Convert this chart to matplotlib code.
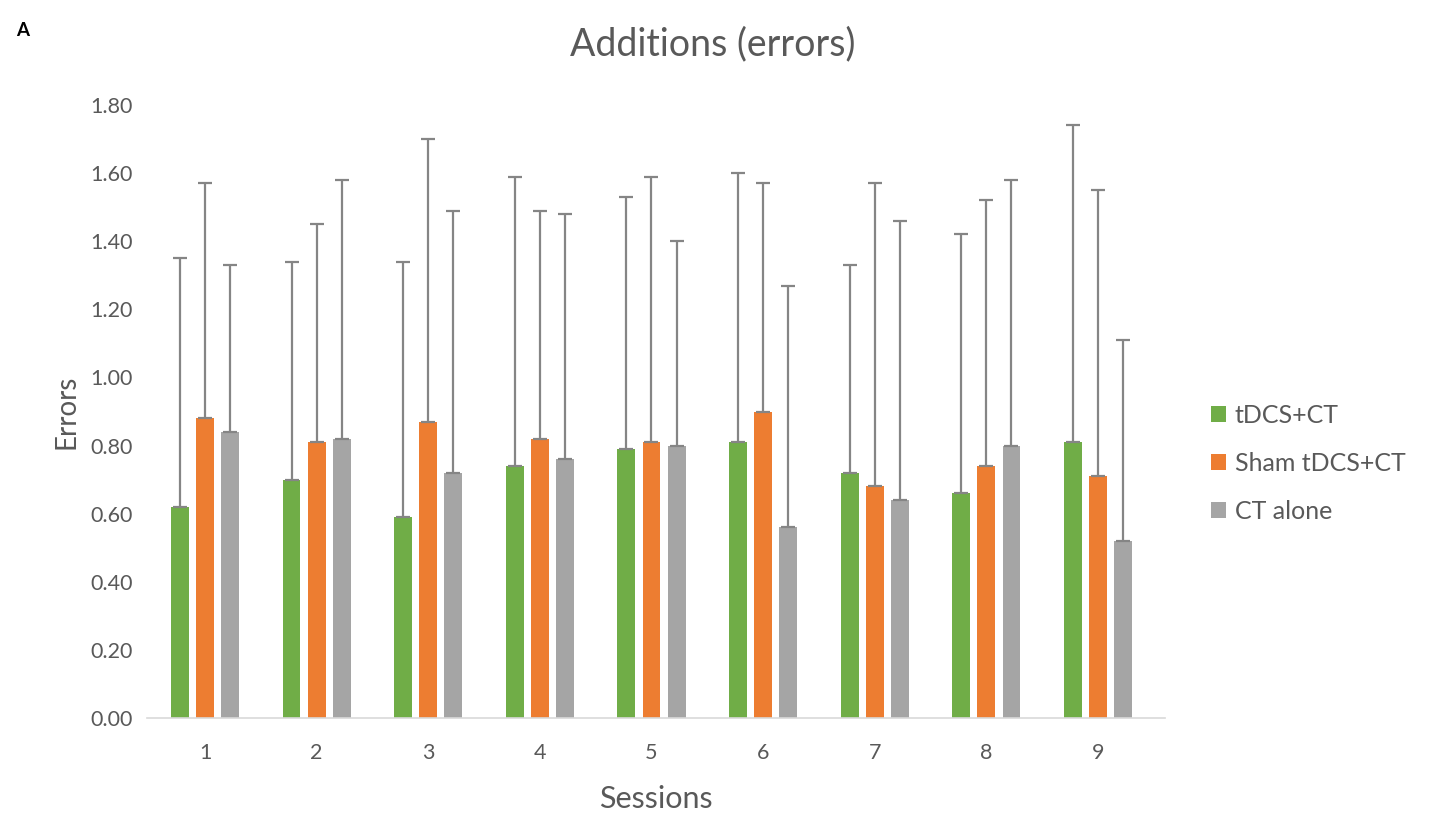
import numpy as np
import matplotlib
matplotlib.use('Agg')
from matplotlib import pyplot as plt


sessions = ['1', '2', '3', '4', '5', '6', '7', '8', '9']
groups = ['tDCS+CT', 'Sham tDCS+CT', 'CT alone']

means_tdcs = [0.62, 0.70, 0.59, 0.74, 0.79, 0.81, 0.72, 0.66, 0.81]
means_sham = [0.88, 0.81, 0.87, 0.82, 0.81, 0.90, 0.68, 0.74, 0.71]
means_ct = [0.84, 0.82, 0.72, 0.76, 0.80, 0.56, 0.64, 0.80, 0.52]

tops_tdcs = [1.35, 1.34, 1.34, 1.59, 1.53, 1.60, 1.33, 1.42, 1.74]
tops_sham = [1.57, 1.45, 1.70, 1.49, 1.59, 1.57, 1.57, 1.52, 1.55]
tops_ct = [1.33, 1.58, 1.49, 1.48, 1.40, 1.27, 1.46, 1.58, 1.11]

COLORS = ['#70AD47', '#ED7D31', '#A5A5A5']
TEXT = '#595959'

plt.rcParams['font.family'] = ['Lato', 'DejaVu Sans']

fig = plt.figure(figsize=(14.38, 8.14), dpi=100)
ax = fig.add_axes([0.1022, 0.1179, 0.7079, 0.7531])

x = np.arange(len(sessions))
width = 0.16
offset = 0.225
series = [(means_tdcs, tops_tdcs), (means_sham, tops_sham), (means_ct, tops_ct)]
for i, (m, t) in enumerate(series):
    m = np.array(m)
    err = np.array(t) - m
    pos = x + (i - 1) * offset
    ax.bar(pos, m, width, color=COLORS[i], label=groups[i], zorder=2)
    # only the upper half of the error bar is drawn, like the Excel original
    ax.errorbar(pos, m, yerr=[np.zeros_like(err), err], fmt='none',
                ecolor='#858585', elinewidth=1.6, capsize=5, capthick=1.6, zorder=3)

ax.set_xlim(-0.52, 8.6)
ax.set_ylim(0, 1.8)
ax.set_yticks(np.arange(0, 1.81, 0.2))
ax.set_yticklabels(['%.2f' % v for v in np.arange(0, 1.81, 0.2)])
ax.set_xticks(x)
ax.set_xticklabels(sessions)
ax.tick_params(length=0, labelsize=15.5, colors=TEXT)
ax.tick_params(axis='x', pad=18)
ax.tick_params(axis='y', pad=10)
for s in ['top', 'right', 'left']:
    ax.spines[s].set_visible(False)
ax.spines['bottom'].set_color('#D9D9D9')
ax.spines['bottom'].set_linewidth(1.2)

ax.set_xlabel('Sessions', fontsize=22, color=TEXT, labelpad=16)
ax.set_ylabel('Errors', fontsize=20, color=TEXT, labelpad=8)
fig.text(0.496, 0.945, 'Additions (errors)', fontsize=27, color=TEXT, ha='center', va='center')
fig.text(0.011, 0.963, 'A', fontsize=13.5, fontweight='bold', color='black', va='center')

ax.legend(loc='center left', bbox_to_anchor=(1.023, 0.416), frameon=False,
          fontsize=18, labelcolor=TEXT, handlelength=0.6, handleheight=0.6,
          handletextpad=0.35, labelspacing=1.0)

fig.savefig('out.png', dpi=100)
plt.close(fig)
